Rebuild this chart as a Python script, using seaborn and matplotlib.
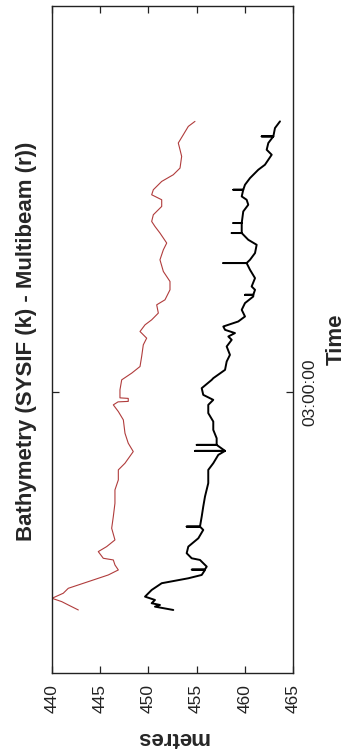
import matplotlib
matplotlib.use("Agg")
import matplotlib.pyplot as plt
import seaborn as sns
import pandas as pd

# ---- data (time in minutes relative to 03:00:00, depth in metres) ----
red_time = [-32.65, -31.9, -31.4, -30.9, -30.14, -29.4, -28.4, -27.4, -26.65, -25.9,
            -25.15, -24.9, -23.9, -23.15, -22.15, -20.4, -18.65, -16.65, -14.65, -13.15,
            -11.65, -10.65, -8.9, -7.65, -6.15, -4.15, -2.9, -1.9, -1.45, -1.38,
            -0.93, -0.85, 0.35, 1.85, 2.86, 3.85, 5.35, 7.1, 8.1, 9.1,
            10.1, 10.85, 11.86, 13.1, 13.85, 15.35, 16.6, 18.1, 19.85, 21.35,
            22.36, 23.86, 24.85, 25.6, 26.6, 27.85, 28.85, 29.6, 30.35, 31.6,
            32.6, 33.6, 35.35, 36.35, 37.36, 38.6, 39.85, 40.6]
red_depth = [442.73, 441.69, 441.01, 440.0, 441.17, 441.69, 443.77, 445.84, 446.88, 446.53,
             446.36, 445.32, 444.80, 445.67, 446.53, 446.19, 446.36, 446.53, 446.53, 446.88,
             446.88, 447.57, 448.43, 447.91, 447.57, 447.40, 446.88, 446.36, 446.85, 447.91,
             447.91, 447.05, 447.05, 447.23, 448.27, 449.13, 449.30, 449.47, 449.82, 449.13,
             449.65, 450.34, 451.03, 450.86, 451.72, 452.24, 452.24, 451.55, 451.20, 451.55,
             451.90, 451.20, 450.68, 450.34, 450.51, 451.38, 451.38, 450.34, 450.51, 451.38,
             452.58, 453.28, 453.45, 453.28, 453.10, 453.62, 454.14, 454.83]

black_time = [-32.65, -32.15, -31.9, -31.64, -31.15, -30.65, -29.65, -28.64, -27.9, -27.4,
              -26.65, -26.6, -26.55, -26.15, -25.15, -24.9, -24.14, -23.15, -21.9, -20.65,
              -20.15, -20.15, -20.15, -18.65, -17.15, -15.65, -13.64, -11.65, -10.65, -9.4,
              -8.8, -8.8, -8.8, -7.9, -7.9, -7.9, -6.9, -5.65, -4.4, -3.14,
              -1.9, -1.15, -0.4, 0.6, 1.85, 2.1, 3.35, 4.6, 5.6, 6.85,
              7.85, 8.35, 8.86, 9.35, 9.85, 10.6, 11.35, 12.35, 13.36, 14.35,
              14.6, 14.6, 14.6, 15.35, 15.85, 17.1, 18.35, 19.36, 19.36, 19.36,
              19.85, 20.86, 22.1, 22.85, 23.86, 23.86, 23.86, 25.36, 25.36, 25.36,
              27.1, 28.1, 28.85, 29.35, 30.35, 30.35, 30.35, 31.1, 32.1, 33.35,
              34.1, 35.6, 36.35, 37.36, 38.35, 38.35, 38.35, 39.6, 40.6]
black_depth = [452.58, 450.68, 451.20, 450.34, 450.68, 449.65, 450.34, 451.38, 454.14, 455.53,
               455.87, 454.49, 455.87, 456.05, 455.35, 454.49, 453.97, 454.14, 455.18, 455.69,
               455.35, 453.97, 455.35, 455.53, 455.69, 455.87, 456.21, 456.21, 456.73, 457.25,
               457.95, 454.83, 457.95, 457.08, 455.01, 457.08, 457.08, 456.73, 456.73, 456.21,
               456.21, 456.73, 455.69, 455.53, 456.57, 456.73, 457.95, 458.12, 458.46, 458.12,
               458.64, 458.29, 458.98, 457.95, 457.77, 459.32, 460.02, 459.68, 460.02, 460.88,
               460.88, 460.02, 460.88, 461.06, 460.71, 461.06, 460.54, 460.19, 457.77, 460.19,
               460.54, 461.06, 461.23, 460.36, 459.68, 458.64, 459.68, 459.68, 458.81, 459.68,
               459.84, 460.36, 460.19, 459.68, 459.84, 458.81, 459.84, 460.02, 460.54, 461.40,
               462.09, 462.79, 462.27, 462.44, 462.96, 461.75, 462.96, 463.13, 463.65]

depth_ticks = [440, 445, 450, 455, 460, 465]
time_ticks = [0]
time_tick_labels = ["03:00:00"]

title_text = "Bathymetry (SYSIF (k) - Multibeam (r))"
xlabel_text = "metres"
ylabel_text = "Time"

# ---- plot ----
sns.set_style("white")
plt.rcParams["font.family"] = ["Liberation Sans", "DejaVu Sans"]

fig = plt.figure(figsize=(3.54, 7.51), dpi=100)
ax = fig.add_axes([52 / 354, 1 - 673 / 751, (293 - 52) / 354, (673 - 6) / 751])

red_df = pd.DataFrame({"depth": red_depth, "time": red_time})
black_df = pd.DataFrame({"depth": black_depth, "time": black_time})

sns.lineplot(data=red_df, x="depth", y="time", sort=False, estimator=None,
             color="#b03c3c", linewidth=0.8, ax=ax)
sns.lineplot(data=black_df, x="depth", y="time", sort=False, estimator=None,
             color="black", linewidth=1.4, ax=ax)

ax.set_xlim(440, 465)
ax.set_ylim(-42.1, 57.9)

ax.set_xticks(depth_ticks)
ax.set_xticklabels([str(v) for v in depth_ticks], rotation=90, fontsize=12.5)
ax.set_yticks(time_ticks)
ax.set_yticklabels(time_tick_labels, rotation=90, va="center", fontsize=12.5)

ax.tick_params(axis="x", direction="in", length=5, width=0.9, top=True, bottom=True,
               labeltop=False, labelbottom=True, pad=8, colors="#222222")
ax.tick_params(axis="y", direction="in", length=5, width=0.9, left=True, right=True,
               labelleft=False, labelright=True, pad=7, colors="#222222")

ax.yaxis.set_label_position("right")
ax.set_ylabel(ylabel_text, fontsize=16, fontweight="bold", rotation=90, labelpad=6)
ax.set_xlabel(xlabel_text, fontsize=16, fontweight="bold", rotation=180, labelpad=10)

for s in ax.spines.values():
    s.set_color("#222222")
    s.set_linewidth(1.0)
    s.set_visible(True)

fig.text(27 / 354, 1 - 341 / 751, title_text, rotation=90, ha="center", va="center",
         fontsize=16, fontweight="bold")

fig.savefig("out.png", dpi=100, facecolor="white")
